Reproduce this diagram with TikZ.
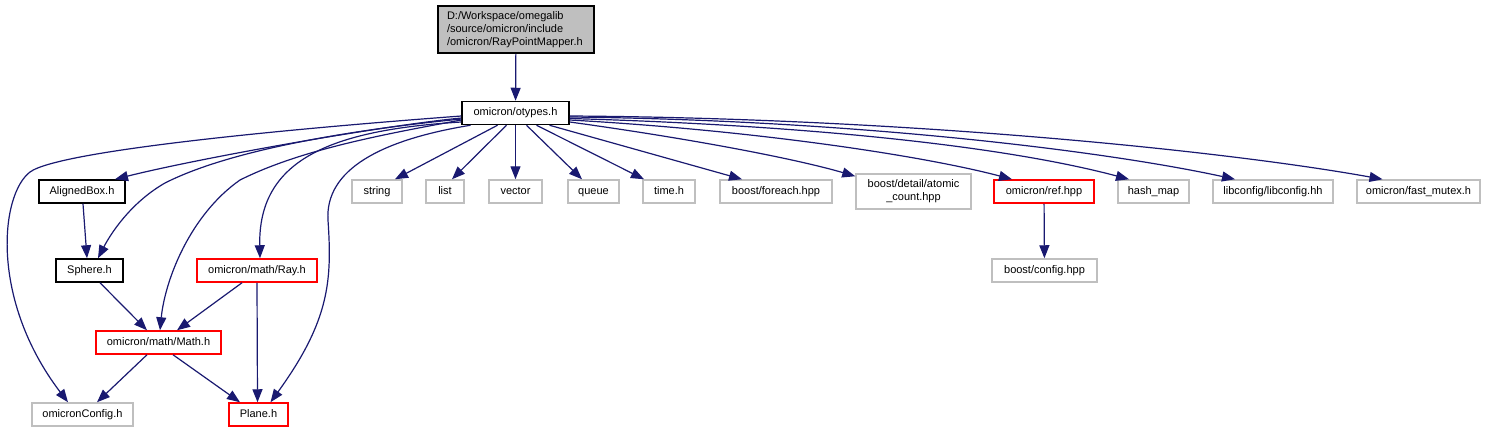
\documentclass[tikz,border=0pt]{standalone}
\usepackage{fontspec}
\setmainfont{Liberation Sans}
\usetikzlibrary{arrows.meta}
\definecolor{edgeblue}{HTML}{191970}
\definecolor{boxgray}{HTML}{BFBFBF}
\definecolor{boxred}{HTML}{FF0000}
\begin{document}
\begin{tikzpicture}[x=1pt,y=-1pt,
  box/.style={draw, line width=1.5pt, inner sep=0pt, minimum height=23pt,
    text height=8pt, text depth=2.5pt,
    font=\fontsize{11}{13}\selectfont, fill=white},
  inbox/.style={box, draw=black},
  extbox/.style={box, draw=boxgray},
  redbox/.style={box, draw=boxred},
  dep/.style={draw=edgeblue, line width=1.2pt, -{Triangle[length=13pt,width=10pt]}}]
\useasboundingbox (0,0) rectangle (1491,432);
% nodes
\node[draw=black, fill=boxgray, line width=1.5pt, align=left, text width=138pt,
  inner xsep=9pt, inner ysep=0pt, minimum height=47pt,
  font=\fontsize{11}{13}\selectfont] (root) at (516,29.5)
  {D:/Workspace/omegalib\\/source/omicron/include\\/omicron/RayPointMapper.h};
\node[inbox, minimum width=107pt] (otypes) at (515.5,113) {omicron/otypes.h};
\node[inbox, minimum width=86pt] (aligned) at (82,191.5) {AlignedBox.h};
\node[inbox, minimum width=67pt] (sphere) at (89.5,270.5) {Sphere.h};
\node[redbox, minimum width=120pt] (ray) at (257,270.5) {omicron/math/Ray.h};
\node[redbox, minimum width=125pt] (math) at (158.5,342.5) {omicron/math/Math.h};
\node[extbox, minimum width=101pt] (cfg) at (82.5,414.5) {omicronConfig.h};
\node[redbox, minimum width=59pt] (plane) at (258.5,414.5) {Plane.h};
\node[extbox, minimum width=50pt] (string) at (377,191.5) {string};
\node[extbox, minimum width=38pt] (list) at (445,191.5) {list};
\node[extbox, minimum width=53pt] (vector) at (515.5,191.5) {vector};
\node[extbox, minimum width=51pt] (queue) at (593.5,191.5) {queue};
\node[extbox, minimum width=52pt] (time) at (669,191.5) {time.h};
\node[extbox, minimum width=112pt] (foreach) at (776,191.5) {boost/foreach.hpp};
\node[extbox, minimum width=115pt, minimum height=35pt, text height=, text depth=, align=center] (atomic) at (913.5,191.5) {boost/detail/atomic\\\_count.hpp};
\node[redbox, minimum width=100pt] (ref) at (1044,191.5) {omicron/ref.hpp};
\node[extbox, minimum width=71pt] (hash) at (1153.5,191.5) {hash\_map};
\node[extbox, minimum width=120pt] (lib) at (1273,191.5) {libconfig/libconfig.hh};
\node[extbox, minimum width=123pt] (fast) at (1418.5,191.5) {omicron/fast\_mutex.h};
\node[extbox, minimum width=105pt] (boostcfg) at (1044.5,270.5) {boost/config.hpp};
% edges
\draw[dep] (root) -- (otypes);
\draw[dep] ([yshift=-3pt]otypes.west) .. controls (300,128) and (60,150) .. (30,172)
  .. controls (0,195) and (-10,300) .. ([xshift=-14.5pt]cfg.north);
\draw[dep] ([yshift=-5pt]otypes.west) .. controls (380,126) and (200,158) .. ([xshift=33pt]aligned.north);
\draw[dep] ([yshift=-6pt]otypes.west) .. controls (350,130) and (230,150) .. (165,183)
  .. controls (130,203) and (110,235) .. ([xshift=8.5pt]sphere.north);
\draw[dep] ([yshift=-7pt]otypes.west) .. controls (380,135) and (300,150) .. (240,180)
  .. controls (190,215) and (165,280) .. ([xshift=1.5pt]math.north);
\draw[dep] ([yshift=-9pt]otypes.west) .. controls (330,130) and (258,160) .. ([xshift=3pt]ray.north);
\draw[dep] ([xshift=-45pt]otypes.south) .. controls (380,140) and (325,170) .. (328,220)
  .. controls (332,280) and (330,320) .. ([xshift=12pt]plane.north);
\draw[dep] ([xshift=-18pt]otypes.south) -- ([xshift=18pt]string.north);
\draw[dep] ([xshift=-9pt]otypes.south) -- ([xshift=7pt]list.north);
\draw[dep] (otypes) -- (vector);
\draw[dep] ([xshift=11pt]otypes.south) -- ([xshift=-11.5pt]queue.north);
\draw[dep] ([xshift=21pt]otypes.south) -- ([xshift=-25pt]time.north);
\draw[dep] ([xshift=34pt]otypes.south) -- ([xshift=-34pt]foreach.north);
\draw[dep] ([yshift=-9pt]otypes.east) .. controls (700,140) and (800,160) .. ([yshift=-3pt]atomic.north west);
\draw[dep] ([yshift=-7pt]otypes.east) .. controls (750,130) and (920,155) .. ([xshift=-32pt]ref.north);
\draw[dep] ([yshift=-5.5pt]otypes.east) .. controls (800,125) and (1000,145) .. ([xshift=-24.5pt]hash.north);
\draw[dep] ([yshift=-4pt]otypes.east) .. controls (850,120) and (1100,150) .. ([xshift=-38pt]lib.north);
\draw[dep] ([yshift=-3pt]otypes.east) .. controls (900,118) and (1220,150) .. ([xshift=-36pt]fast.north);
\draw[dep] ([xshift=1pt]aligned.south) -- ([xshift=-2.5pt]sphere.north);
\draw[dep] ([xshift=10.5pt]sphere.south) -- ([xshift=-11.5pt]math.north);
\draw[dep] ([xshift=-15pt]ray.south) -- ([xshift=18.5pt]math.north);
\draw[dep] (ray.south) -- ([xshift=-1pt]plane.north);
\draw[dep] ([xshift=-11.5pt]math.south) -- ([xshift=14.5pt]cfg.north);
\draw[dep] ([xshift=14.5pt]math.south) -- ([xshift=-18.5pt]plane.north);
\draw[dep] (ref) -- (boostcfg);
\end{tikzpicture}
\end{document}
